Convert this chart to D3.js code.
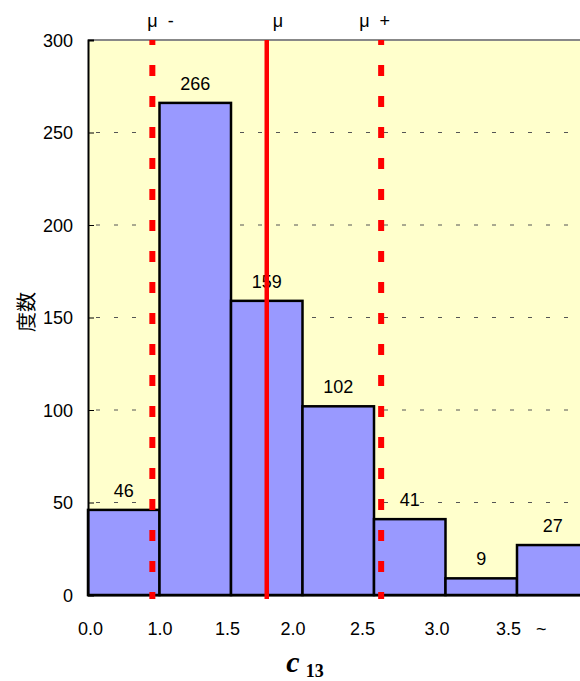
<!DOCTYPE html>
<html><head><meta charset="utf-8">
<script src="https://cdn.jsdelivr.net/npm/d3@7"></script>
<style>
html,body{margin:0;padding:0;background:#fff;}
svg text{fill:#000;}
</style></head>
<body>
<svg id="chart" width="580" height="681" style="font-family:'Liberation Sans',Arial,sans-serif"></svg>
<script>
// ---- data ----
const categories = ["0.0", "1.0", "1.5", "2.0", "2.5", "3.0", "3.5"];
const counts = [46, 266, 159, 102, 41, 9, 27];
const tickLabels = ["0.0", "1.0", "1.5", "2.0", "2.5", "3.0", "3.5   ~"];
const binEdges = [0, 1.0, 1.5, 2.0, 2.5, 3.0, 3.5, 4.0];
const yTicks = [0, 50, 100, 150, 200, 250, 300];
const markerNames = ["μ  -", "μ", "μ  +"];
const markerValues = [0.90, 1.75, 2.55];
const markerDashed = [true, false, true];

(function () {
// ---- layout (style, not data) ----
const mLeft = 88, mTop = 40, mBottom = 595, mRight = 588.5;
const tickLabelDx = [-10, -12, -16, -22, -24, -21, -21];
const markerLabelDx = [-5, 6, -22];
const SANS = "'Liberation Sans',Arial,sans-serif";

const svg = d3.select("#chart");

const x = d3.scaleBand().domain(categories).range([mLeft, mRight]).padding(0);
const xv = d3.scaleLinear().domain(binEdges)
  .range(binEdges.map((d, i) => mLeft + i * x.bandwidth()));
const y = d3.scaleLinear().domain([0, 300]).range([mBottom, mTop]);

// background
svg.append("rect").attr("x", mLeft).attr("y", mTop)
  .attr("width", 600 - mLeft).attr("height", mBottom - mTop).attr("fill", "#FFFFCC");

// gridlines
svg.append("g").selectAll("line").data(yTicks.filter(d => d > 0 && d < 300)).join("line")
  .attr("x1", mLeft).attr("x2", 600).attr("y1", d => y(d)).attr("y2", d => y(d))
  .attr("stroke", "#555").attr("stroke-width", 1).attr("stroke-dasharray", "4,14")
  .attr("stroke-dashoffset", -8);

// top border
svg.append("line").attr("x1", mLeft).attr("x2", 600).attr("y1", mTop).attr("y2", mTop)
  .attr("stroke", "#888").attr("stroke-width", 2);
// bottom border
svg.append("line").attr("x1", mLeft).attr("x2", 600).attr("y1", mBottom + 1).attr("y2", mBottom + 1)
  .attr("stroke", "#888").attr("stroke-width", 2);

// bars
svg.append("g").selectAll("rect").data(counts).join("rect")
  .attr("x", (d, i) => x(categories[i]))
  .attr("y", d => y(d))
  .attr("width", x.bandwidth())
  .attr("height", d => y(0) - y(d))
  .attr("fill", "#9999FF").attr("stroke", "#000").attr("stroke-width", 2.5);

// bar labels
svg.append("g").selectAll("text").data(counts).join("text")
  .attr("x", (d, i) => x(categories[i]) + x.bandwidth() / 2)
  .attr("y", d => y(d) - 13)
  .attr("text-anchor", "middle").style("font-size", "18px")
  .text(d => d);

// y axis
const yAxis = d3.axisLeft(y).tickValues(yTicks).tickSize(-6).tickPadding(14);
const gy = svg.append("g").attr("transform", `translate(${mLeft},0)`).call(yAxis);
gy.attr("font-family", null).attr("font-size", null);
gy.select(".domain").attr("stroke", "#000").attr("stroke-width", 2);
gy.selectAll(".tick line").attr("stroke", "#000").attr("stroke-width", 1);
gy.selectAll(".tick text").style("font-size", "18px").style("font-family", SANS)
  .attr("x", -15).attr("dy", "0.35em");

// x tick labels
svg.append("g").selectAll("text").data(tickLabels).join("text")
  .attr("x", (d, i) => xv(binEdges[i]) + tickLabelDx[i])
  .attr("y", 635)
  .style("font-size", "18px").attr("text-anchor", "start")
  .style("white-space", "pre")
  .text(d => d);

// mean / sigma lines
svg.append("g").selectAll("line").data(markerValues).join("line")
  .attr("x1", d => xv(d)).attr("x2", d => xv(d))
  .attr("y1", mTop).attr("y2", mBottom + 4)
  .attr("stroke", "#FF0000")
  .attr("stroke-width", (d, i) => markerDashed[i] ? 6 : 4.5)
  .attr("stroke-dasharray", (d, i) => markerDashed[i] ? "11,20" : null)
  .attr("stroke-dashoffset", (d, i) => markerDashed[i] ? 6 : 0);

// marker labels
svg.append("g").selectAll("text").data(markerValues).join("text")
  .attr("x", (d, i) => xv(d) + markerLabelDx[i])
  .attr("y", 27)
  .style("font-size", "18px")
  .style("white-space", "pre")
  .text((d, i) => markerNames[i]);

// y label
svg.append("text")
  .attr("transform", "translate(34,312) rotate(-90)")
  .attr("text-anchor", "middle")
  .style("font-size", "20px")
  .style("font-family", "'Noto Sans CJK JP','Noto Sans CJK SC',sans-serif")
  .text("度数");

// x title
const xt = svg.append("text").attr("x", 305).attr("y", 672).attr("text-anchor", "middle")
  .style("font-family", "'Liberation Serif','Times New Roman',serif").style("font-weight", "bold");
xt.append("tspan").style("font-style", "italic").style("font-size", "30px").text("c");
xt.append("tspan").style("font-size", "18px").attr("dx", 6).attr("dy", 5).text("13");
})();
</script>
</body></html>
